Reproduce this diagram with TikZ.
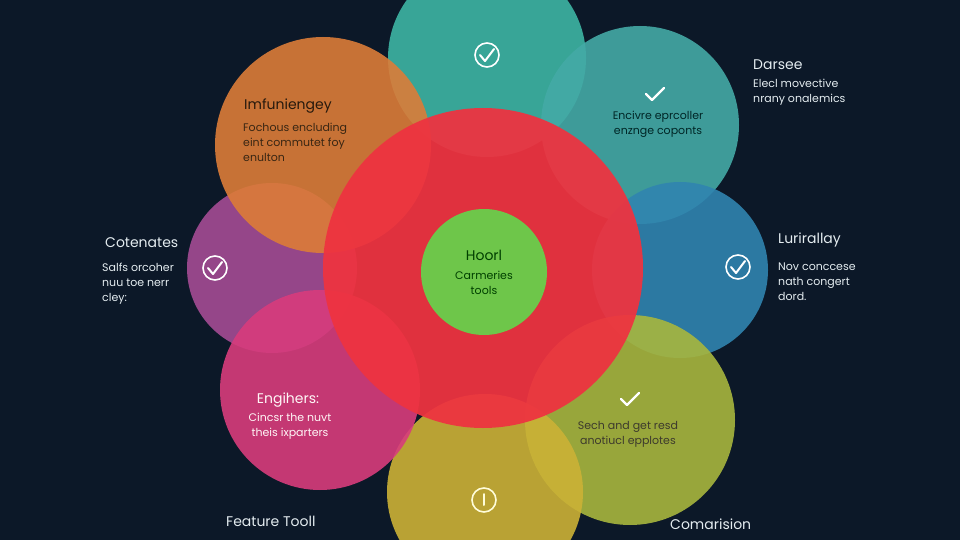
\documentclass[tikz,border=0pt]{standalone}
\usepackage{fontspec}
\setmainfont{Poppins}
\definecolor{bg}{HTML}{0C1828}
\definecolor{cteal}{HTML}{3CB0A0}
\definecolor{corange}{HTML}{DC7C38}
\definecolor{ccyan}{HTML}{44AAA6}
\definecolor{cblue}{HTML}{3084B0}
\definecolor{colive}{HTML}{A8B63E}
\definecolor{cyellow}{HTML}{CCB236}
\definecolor{cpink}{HTML}{D83C7C}
\definecolor{cpurple}{HTML}{A44C94}
\definecolor{cred}{HTML}{EE3340}
\definecolor{cgreen}{HTML}{6EC64A}
\definecolor{txtlight}{HTML}{E4ECF0}
\begin{document}
\begin{tikzpicture}[x=1pt,y=-1pt,
  ttl/.style={font=\fontsize{14}{16}\selectfont,inner sep=0pt},
  body/.style={font=\fontsize{11}{15}\selectfont,inner sep=0pt,align=left},
  bodyc/.style={font=\fontsize{11}{15}\selectfont,inner sep=0pt,align=center},
  ckcircle/.style={circle,draw=white,line width=1.6pt,minimum size=24pt,inner sep=0pt},
  tick/.style={white,line width=2pt,line cap=round,line join=round}]
\fill[bg] (0,0) rectangle (960,540);
\useasboundingbox (0,0) rectangle (960,540);
% petals
\fill[cteal,fill opacity=0.93] (487,58) circle (99);
\fill[ccyan,fill opacity=0.9] (640,125) circle (99);
\fill[cblue,fill opacity=0.9] (680,270) circle (88);
\fill[colive,fill opacity=0.9] (630,420) circle (105);
\fill[cyellow,fill opacity=0.9] (485,492) circle (98);
\fill[cpurple,fill opacity=0.9] (272,268) circle (85);
\fill[cpink,fill opacity=0.9] (320,390) circle (100);
\fill[corange,fill opacity=0.9] (323,145) circle (108);
\fill[cred,fill opacity=0.94] (483,268) circle (160);
\node[circle,fill=cgreen,minimum size=126pt,inner sep=0pt] (core) at (484,272) {};
% icons
\node[ckcircle] (ic1) at (487,55) {};
\draw[tick] (480,55) -- (485,61) -- (494,49);
\node[ckcircle] (ic2) at (215,268) {};
\draw[tick] (208,268) -- (213,274) -- (222,262);
\node[ckcircle] (ic3) at (738,267) {};
\draw[tick] (731,267) -- (736,273) -- (745,261);
\coordinate (ck4) at (655,95);
\draw[tick,line width=2.4pt] (646,94) -- (652,100) -- (664,88);
\coordinate (ck5) at (630,400);
\draw[tick,line width=2.4pt] (621,399) -- (627,405) -- (639,393);
\node[circle,draw=white!85!yellow,line width=1.6pt,minimum size=24pt,inner sep=0pt] (info) at (484,500) {};
\draw[white!85!yellow,line width=2pt,line cap=round] (484,494) -- (484,505);
% texts
\node[ttl,anchor=west,text=black!80!brown] (t1) at (244,106) {Imfuniengey};
\node[body,anchor=north west,text=black!70!brown] (b1) at (243,123) {Fochous encluding\\eint commutet foy\\enulton};
\node[bodyc,text=black!70!teal] (b2) at (658,124) {Encivre eprcoller\\enznge coponts};
\node[ttl,anchor=west,text=txtlight] (t3) at (753,65) {Darsee};
\node[body,anchor=north west,text=txtlight] (b3) at (753,79) {Elecl movective\\nrany onalemics};
\node[ttl,anchor=west,text=txtlight] (t4) at (105,243) {Cotenates};
\node[body,anchor=north west,text=txtlight] (b4) at (102,263) {Salfs orcoher\\nuu toe nerr\\cley:};
\node[ttl,anchor=west,text=txtlight] (t5) at (778,240) {Lurirallay};
\node[body,anchor=north west,text=txtlight] (b5) at (778,263) {Nov conccese\\nath congert\\dord.};
\node[ttl,text=black!75!green] (t6) at (484,255) {Hoorl};
\node[bodyc,text=black!75!green] (b6) at (484,283) {Carmeries\\tools};
\node[ttl,text=white!85!pink] (t7) at (288,400) {Engihers:};
\node[bodyc,text=white!85!pink] (b7) at (290,426) {Cincsr the nuvt\\theis ixparters};
\node[bodyc,text=black!75!olive] (b8) at (628,434) {Sech and get resd\\anotiucl epplotes};
\node[ttl,anchor=west,text=txtlight] (t9) at (226,521) {Feature Tooll};
\node[ttl,anchor=west,text=txtlight] (t10) at (670,524) {Comarision};
\end{tikzpicture}
\end{document}
